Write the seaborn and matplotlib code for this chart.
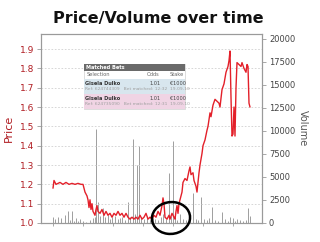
import matplotlib
matplotlib.use("Agg")
import matplotlib.pyplot as plt
from matplotlib.patches import Rectangle, Ellipse
import seaborn as sns
import pandas as pd

# ---- data ----
price_t = [0, 1, 3, 7, 10, 13, 16, 19, 22, 25,
           28, 30, 32, 34, 35, 36, 37, 38, 39, 40,
           42, 43, 44, 45, 47, 49, 51, 53, 55, 57,
           59, 61, 63, 65, 67, 69, 71, 73, 75, 77,
           79, 81, 83, 85, 87, 89, 91, 93, 95, 97,
           99, 101, 103, 105, 107, 109, 110, 111, 112, 114,
           116, 117, 119, 121, 122, 123, 124, 125, 126, 127,
           129, 130, 132, 134, 136, 137, 138, 140, 141, 143,
           144, 146, 147, 149, 150, 152, 154, 155, 157, 158,
           160, 162, 164, 166, 167, 169, 171, 173, 175, 176,
           177, 178, 179, 180, 181, 182, 183, 184, 186, 188,
           189, 191, 193, 194, 195, 196, 197]
price = [1.18, 1.22, 1.20, 1.21, 1.20, 1.21, 1.20, 1.205, 1.20, 1.205,
         1.20, 1.20, 1.16, 1.14, 1.12, 1.08, 1.12, 1.07, 1.10, 1.06,
         1.04, 1.07, 1.09, 1.06, 1.05, 1.07, 1.04, 1.06, 1.04, 1.05,
         1.03, 1.05, 1.04, 1.06, 1.04, 1.05, 1.03, 1.05, 1.03, 1.02,
         1.03, 1.02, 1.03, 1.02, 1.04, 1.02, 1.03, 1.05, 1.02, 1.03,
         1.02, 1.04, 1.03, 1.06, 1.04, 1.09, 1.13, 1.10, 1.03, 1.02,
         1.04, 1.02, 1.05, 1.03, 1.02, 1.06, 1.09, 1.05, 1.10, 1.12,
         1.16, 1.21, 1.23, 1.22, 1.27, 1.29, 1.25, 1.26, 1.22, 1.19,
         1.16, 1.26, 1.30, 1.36, 1.40, 1.43, 1.48, 1.50, 1.57, 1.55,
         1.61, 1.64, 1.63, 1.62, 1.60, 1.69, 1.72, 1.78, 1.81, 1.84,
         1.89, 1.65, 1.45, 1.46, 1.60, 1.45, 1.70, 1.83, 1.82, 1.81,
         1.83, 1.80, 1.78, 1.82, 1.81, 1.62, 1.60]

vol_t = [0, 2, 5, 8, 12, 15, 17, 19, 21, 23,
         25, 27, 30, 33, 37, 40, 42, 43, 45, 47,
         50, 52, 55, 57, 59, 62, 65, 67, 69, 72,
         75, 77, 80, 82, 84, 86, 88, 91, 94, 97,
         100, 102, 105, 108, 110, 113, 116, 118, 120, 122,
         124, 127, 130, 133, 137, 140, 143, 145, 148, 151,
         154, 156, 159, 162, 165, 169, 172, 175, 177, 180,
         182, 184, 187, 190, 193, 195, 197]
volume = [650, 400, 700, 500, 900, 1300, 300, 1300, 200, 500,
          200, 400, 200, 150, 300, 500, 700, 10200, 2300, 800,
          1600, 600, 900, 400, 700, 800, 400, 500, 700, 300,
          2300, 600, 9100, 1000, 6300, 8400, 700, 400, 800, 300,
          500, 400, 300, 600, 1000, 400, 5400, 800, 8900, 600,
          300, 1000, 400, 300, 500, 3300, 400, 300, 2800, 400,
          300, 500, 1700, 300, 200, 1200, 400, 200, 600, 500,
          200, 400, 300, 200, 300, 1600, 800]

price_ticks = [1.0, 1.1, 1.2, 1.3, 1.4, 1.5, 1.6, 1.7, 1.8, 1.9]
volume_ticks = [0, 2500, 5000, 7500, 10000, 12500, 15000, 17500, 20000]

table_header = "Matched Bets"
table_cols = ["Selection", "Odds", "Stake"]
table_rows = [
    ("Gisela Dulko", "1.01", "€1000", "Ref: 624744309   Bet matched: 12:32  19-09-10"),
    ("Gisela Dulko", "1.01", "€1000", "Ref: 624735090   Bet matched: 12:31  19-09-10"),
]

# ---- style ----
sns.set_style("white")
plt.rcParams['font.family'] = ['DejaVu Sans']

W, H = 320, 242
fig = plt.figure(figsize=(3.2, 2.42), dpi=100)

def fx(x):
    return x / W

def fy(y):
    return 1 - y / H

ax = fig.add_axes([fx(41), fy(223), fx(262) - fx(41), fy(34) - fy(223)])
ax2 = ax.twinx()

RED = "#e3202a"
DARKRED = "#b01c22"
GRAY = "#9a9a9a"
BAR = "#8f8f8f"

# volume bars (right axis)
ax2.bar(vol_t, volume, width=0.5, color=BAR, edgecolor=BAR, linewidth=0.6)
ax2.set_ylim(0, 20500)
ax2.set_yticks(volume_ticks)
ax2.set_yticklabels([str(v) for v in volume_ticks], fontsize=6, color="#444444")
ax2.set_ylabel("Volume", rotation=270, fontsize=7, color="#555555", labelpad=9)

# price line (left axis, on top)
df = pd.DataFrame({"t": price_t, "price": price})
sns.lineplot(data=df, x="t", y="price", ax=ax, color=RED, linewidth=1.0, sort=False)
ax.set_ylim(1.0, 1.978)
ax.set_xlim(-12, 209)
ax.set_yticks(price_ticks)
ax.set_yticklabels([f"{v:.1f}" for v in price_ticks], fontsize=6.5, color=DARKRED)
ax.set_ylabel("Price", fontsize=8, color=DARKRED, labelpad=4)
ax.set_xlabel("")
ax.set_xticks([0, 30, 60, 90, 120, 150, 180])
ax.set_xticklabels([])
ax.grid(axis="y", color="#d0d0d0", linestyle=(0, (2, 2)), linewidth=0.6)
ax.set_axisbelow(True)
ax.set_zorder(ax2.get_zorder() + 1)
ax.patch.set_visible(False)

for a in (ax, ax2):
    for s in a.spines.values():
        s.set_color(GRAY)
        s.set_linewidth(0.8)
ax.tick_params(axis="y", length=3, width=0.6, color=GRAY, pad=2, left=True)
ax.tick_params(axis="x", length=2.5, width=0.6, color=GRAY, bottom=True)
ax2.tick_params(axis="y", length=3, width=0.6, color=GRAY, pad=2, right=True)

fig.text(fx(158), fy(18), "Price/Volume over time", ha="center", va="center",
         fontsize=11.5, fontweight="bold", color="#111111")

# ---- inset "Matched Bets" table ----
def rect(x0, y0, x1, y1, fc, ec="none", lw=0):
    fig.add_artist(Rectangle((fx(x0), fy(y1)), fx(x1) - fx(x0), fy(y0) - fy(y1),
                             transform=fig.transFigure, facecolor=fc,
                             edgecolor=ec, linewidth=lw, zorder=10))

rect(84, 64, 185, 109, "white", ec="#cfcfcf", lw=0.5)
rect(84, 64, 185, 70.5, "#6a6a6a")
rect(84, 79, 185, 94, "#d8e6ee")
rect(84, 94, 185, 109, "#f0d4e4")
fs = 3.6
fig.text(fx(86), fy(67.3), table_header, fontsize=fs, color="white",
         fontweight="bold", va="center", zorder=11)
fig.text(fx(87), fy(75), table_cols[0], fontsize=fs, color="#666666", va="center", zorder=11)
fig.text(fx(147), fy(75), table_cols[1], fontsize=fs, color="#666666", va="center", zorder=11)
fig.text(fx(170), fy(75), table_cols[2], fontsize=fs, color="#666666", va="center", zorder=11)
for i, (name, odds, stake, ref) in enumerate(table_rows):
    y0 = 83 + i * 15
    fig.text(fx(85), fy(y0), name, fontsize=fs, color="#333333",
             fontweight="bold", va="center", zorder=11)
    fig.text(fx(150), fy(y0), odds, fontsize=fs, color="#444444", va="center", zorder=11)
    fig.text(fx(170), fy(y0), stake, fontsize=fs, color="#444444", va="center", zorder=11)
    fig.text(fx(85), fy(y0 + 6), ref, fontsize=3.2, color="#a0a0a0", va="center", zorder=11)

# ---- hand-drawn circle ----
fig.add_artist(Ellipse((fx(171), fy(218)), fx(38), 32 / H, angle=-10,
                       transform=fig.transFigure, facecolor="none",
                       edgecolor="black", linewidth=1.8, zorder=12))

fig.savefig("out.png", dpi=100)
